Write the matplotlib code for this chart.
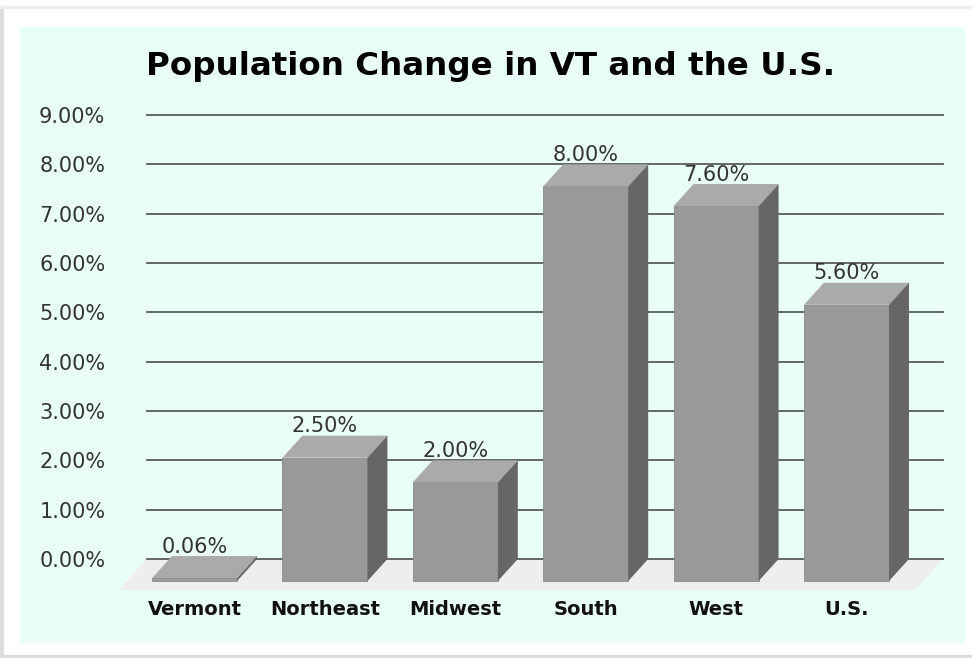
import matplotlib
matplotlib.use("Agg")
import matplotlib.pyplot as plt
from matplotlib.patches import Polygon, Rectangle

# data
categories = ["Vermont", "Northeast", "Midwest", "South", "West", "U.S."]
values = [0.06, 2.50, 2.00, 8.00, 7.60, 5.60]
value_labels = ["0.06%", "2.50%", "2.00%", "8.00%", "7.60%", "5.60%"]
y_ticks = [0, 1, 2, 3, 4, 5, 6, 7, 8, 9]
y_tick_labels = ["%.2f%%" % t for t in y_ticks]
title = "Population Change in VT and the U.S."

W, H = 972, 658
fig = plt.figure(figsize=(W / 100, H / 100), dpi=100)
fig.patch.set_facecolor("white")

# card shadow + mint panel (behind the axes)
def bg_rect(x, y, w, h, c):
    fig.patches.append(Rectangle((x / W, y / H), w / W, h / H, transform=fig.transFigure,
                                 color=c, zorder=-10))

bg_rect(0, 0, 3, 652, "#dcdcdc")
bg_rect(0, 650, W, 2, "#efefef")
bg_rect(0, 0, W, 3, "#dcdcdc")
bg_rect(20, 16, 944, 615, "#e9fff5")

# axes = back wall
x0, x1 = -0.518, 5.587
ax = fig.add_axes([147 / W, (H - 559) / H, 796 / W, 444 / H])
ax.set_xlim(x0, x1)
ax.set_ylim(0, 9)
ax.patch.set_alpha(0)
for s in ax.spines.values():
    s.set_visible(False)

# depth offsets (front face relative to back)
dx, dy = -0.153, -0.446
bw = 0.652

# floor
fdx, fdy = -0.218, -0.63
floor = Polygon([(x0, 0), (x1, 0), (x1 + fdx, fdy), (x0 + fdx, fdy)],
                closed=True, facecolor="#eeeeee", edgecolor="none",
                clip_on=False, zorder=1)
ax.add_patch(floor)

# gridlines
for t in y_ticks:
    ax.axhline(t, color="#575c57", lw=1.3, zorder=2, clip_on=False)

ax.set_yticks(y_ticks)
ax.set_yticklabels(y_tick_labels)
ax.tick_params(axis="y", length=0, pad=30, labelsize=15, labelcolor="#333333")

# bars
for i, v in enumerate(values):
    cx = i + dx
    l, r = cx - bw / 2, cx + bw / 2
    b, t = dy, v + dy
    front = Polygon([(l, b), (r, b), (r, t), (l, t)], closed=True,
                    facecolor="#999999", edgecolor="#8a8a8a", lw=0.6,
                    clip_on=False, zorder=4)
    top = Polygon([(l, t), (r, t), (r - dx, v), (l - dx, v)], closed=True,
                  facecolor="#aaaaaa", edgecolor="none", clip_on=False, zorder=4)
    side = Polygon([(r, b), (r - dx, 0), (r - dx, v), (r, t)], closed=True,
                   facecolor="#666666", edgecolor="none", clip_on=False, zorder=4)
    for p in (front, top, side):
        ax.add_patch(p)
    ax.text(cx, v - 0.01, value_labels[i], ha="center", va="bottom",
            fontsize=15, color="#333333", zorder=5)

ax.set_xticks([i + dx for i in range(len(categories))])
ax.set_xticklabels(categories, fontweight="bold")
ax.tick_params(axis="x", length=0, pad=29.5, labelsize=14, labelcolor="#111111")

fig.text(491 / W, (H - 66) / H, title, ha="center", va="center",
         fontsize=23.4, fontweight="bold", color="black")

fig.savefig("out.png", dpi=100)
